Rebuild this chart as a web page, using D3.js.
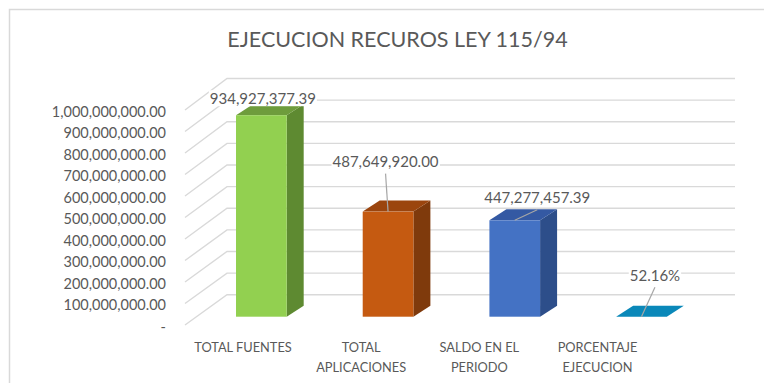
<!DOCTYPE html>
<html>
<head>
<meta charset="utf-8">
<script src="https://cdn.jsdelivr.net/npm/d3@7"></script>
<style>
  html, body { margin: 0; padding: 0; background: #fff; }
  svg { display: block; }
  text { font-family: Lato, "Open Sans", sans-serif; fill: #595959; }
</style>
</head>
<body>
<svg id="chart" width="764" height="383"></svg>
<script>
// ---- data ----
const title = "EJECUCION RECUROS LEY 115/94";
const categories = ["TOTAL FUENTES", "TOTAL APLICACIONES", "SALDO EN EL PERIODO", "PORCENTAJE EJECUCION"];
const values = [934927377.39, 487649920.00, 447277457.39, 0.5216];
const valueKinds = ["amount", "amount", "amount", "percent"];

// ---- styles ----
const frontColors = ["#92d050", "#c55a11", "#4472c4", "#00b0f0"];
const topColors   = ["#6e9c3c", "#9b450e", "#3459a3", "#0a88b9"];
const sideColors  = ["#5e8a31", "#7f3a0c", "#2d4e8a", "#076e96"];
// data label placement relative to the top-front centre of each column
const labelShift = [[1.5, -11], [-2.5, -44.5], [22.5, -17], [13.5, -36]];
const hasLeader = [false, true, true, true];

const W = 764, H = 383;
const svg = d3.select("#chart");

// 3-D box geometry
const depth = { dx: 17, dy: -11 };
const sideWall = { xFront: 185, xBack: 227, xRight: 735 };

const domainMax = 1e9;
// value axis on the front edge of the side wall (tick labels)
const yFront = d3.scaleLinear().domain([0, domainMax]).range([325, 110]);
// value axis on the back wall (gridlines)
const yBack = d3.scaleLinear().domain([0, domainMax]).range([294.7, 78.5]);
// value axis on the front face of the columns
const yBar = d3.scaleLinear().domain([0, domainMax]).range([316.7, 101.2]);

const x = d3.scaleBand().domain(categories).range([198, 704.8])
  .paddingInner(0.6).paddingOuter(0.3);
const xLabel = d3.scalePoint().domain(categories).range([243, 597.5]);

const fmtAmount = d3.format(",.2f");
const fmtPct = d3.format(".2%");
const fmtTick = v => v === 0 ? "-" : fmtAmount(v);

// chart frame
svg.append("path")
  .attr("d", `M9.5,${H} L9.5,9.5 L${W},9.5`)
  .attr("fill", "none").attr("stroke", "#d9d9d9").attr("stroke-width", 1.5);

// title
svg.append("text")
  .attr("x", 397.5).attr("y", 46.5)
  .attr("text-anchor", "middle")
  .style("font-size", "21.5px")
  .text(title);

// gridlines: side wall diagonal + back wall horizontal
const ticks = yFront.ticks(10);
const grid = svg.append("g").attr("fill", "none").attr("stroke", "#d9d9d9").attr("stroke-width", 1.4);
ticks.forEach(t => {
  grid.append("path").attr("d",
    `M${sideWall.xFront},${yFront(t)} L${sideWall.xBack},${yBack(t)} L${sideWall.xRight},${yBack(t)}`);
});

// value axis labels
svg.append("g").selectAll("text").data(ticks).join("text")
  .attr("x", 166).attr("y", d => yFront(d) + 6.5)
  .attr("text-anchor", "end")
  .style("font-size", "14.5px")
  .text(fmtTick);

// columns
const bars = svg.append("g");
categories.forEach((c, i) => {
  const x0 = x(c), x1 = x(c) + x.bandwidth();
  const yt = yBar(values[i]), yb = yBar(0);
  const { dx, dy } = depth;
  bars.append("path").attr("fill", sideColors[i])
    .attr("d", `M${x1},${yt} L${x1 + dx},${yt + dy} L${x1 + dx},${yb + dy} L${x1},${yb} Z`);
  bars.append("path").attr("fill", topColors[i])
    .attr("d", `M${x0},${yt} L${x0 + dx},${yt + dy} L${x1 + dx},${yt + dy} L${x1},${yt} Z`);
  bars.append("rect").attr("fill", frontColors[i])
    .attr("x", x0).attr("y", yt).attr("width", x1 - x0).attr("height", Math.max(0, yb - yt));
});

// data labels with leader lines
const labels = svg.append("g");
categories.forEach((c, i) => {
  const ax = x(c) + x.bandwidth() / 2, ay = yBar(values[i]);
  const lx = ax + labelShift[i][0], ly = ay + labelShift[i][1];
  const txt = valueKinds[i] === "percent" ? fmtPct(values[i]) : fmtAmount(values[i]);
  if (hasLeader[i]) {
    labels.append("line")
      .attr("x1", lx).attr("y1", ly + 6.5).attr("x2", ax).attr("y2", ay)
      .attr("stroke", "#a6a6a6").attr("stroke-width", 1.2);
  }
  const g = labels.append("g");
  const bg = g.append("rect").attr("fill", "#fff");
  const t = g.append("text")
    .attr("x", lx).attr("y", ly)
    .attr("text-anchor", "middle")
    .style("font-size", "15px")
    .text(txt);
  const bb = t.node().getBBox();
  bg.attr("x", bb.x - 1).attr("y", bb.y + 1).attr("width", bb.width + 2).attr("height", bb.height - 2);
});

// category labels, wrapped word by word
const maxLabelWidth = 110;
const catG = svg.append("g");
categories.forEach(c => {
  const t = catG.append("text")
    .attr("x", xLabel(c)).attr("y", 352)
    .attr("text-anchor", "middle")
    .style("font-size", "12.8px");
  const words = c.split(" ");
  let line = [], lineNo = 0;
  let tspan = t.append("tspan").attr("x", xLabel(c)).attr("dy", 0);
  words.forEach(w => {
    line.push(w);
    tspan.text(line.join(" "));
    if (tspan.node().getComputedTextLength() > maxLabelWidth && line.length > 1) {
      line.pop();
      tspan.text(line.join(" "));
      line = [w];
      lineNo++;
      tspan = t.append("tspan").attr("x", xLabel(c)).attr("dy", 19.5).text(w);
    }
  });
});
</script>
</body>
</html>
